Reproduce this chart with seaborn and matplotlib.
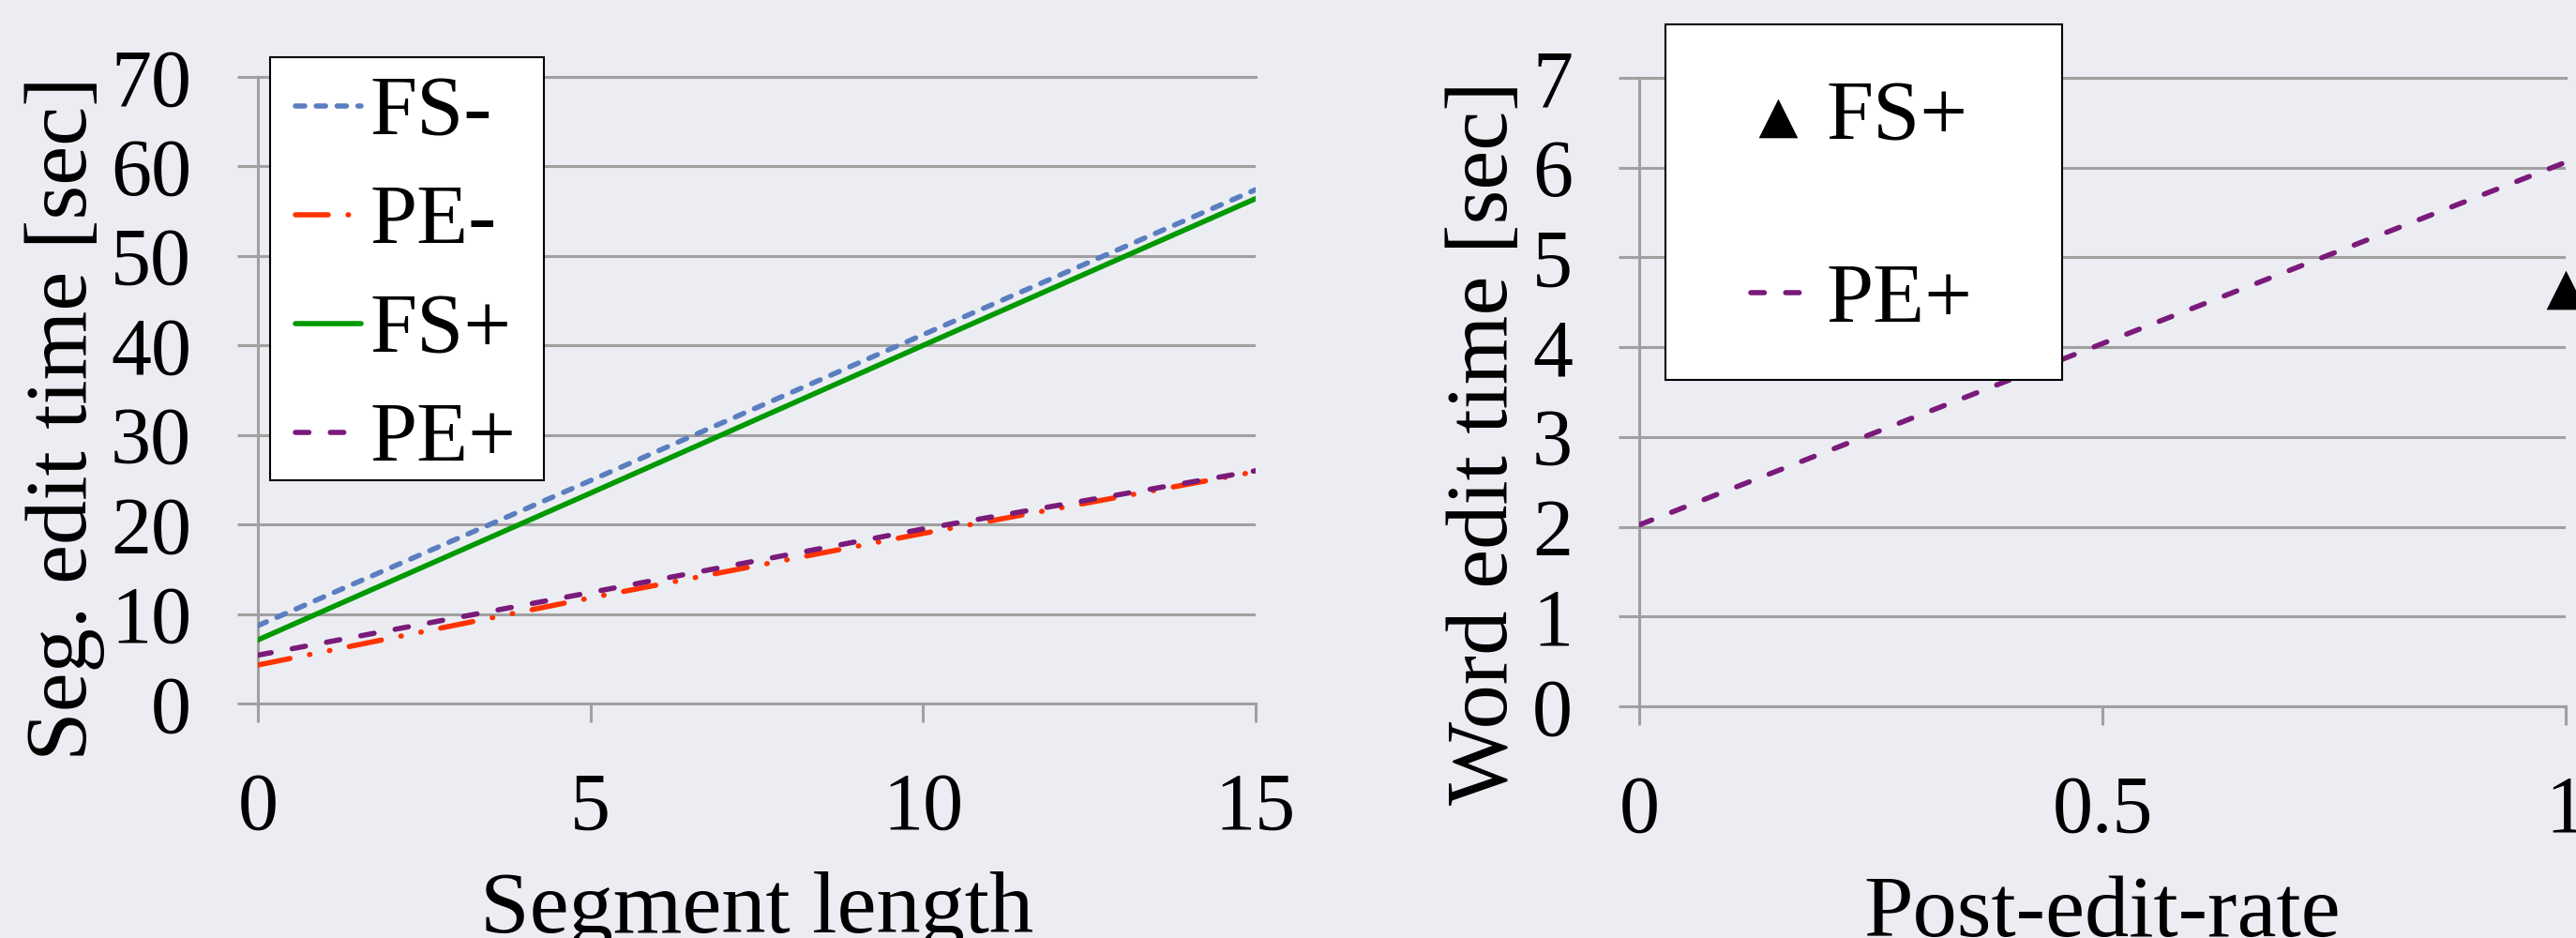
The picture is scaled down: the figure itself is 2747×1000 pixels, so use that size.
import matplotlib
matplotlib.use("Agg")
import matplotlib.pyplot as plt
from matplotlib.patches import Rectangle
import seaborn as sns

# ---------------- data ----------------
seg_len = [0, 5, 10, 15]
fs_minus = [8.7, 24.9, 41.2, 57.4]
pe_minus = [4.3, 11.8, 19.0, 25.9]
fs_plus = [7.1, 23.5, 40.0, 56.4]
pe_plus = [5.4, 12.4, 19.5, 26.0]

post_edit_rate = [0, 1]
pe_plus_word = [2.02, 6.06]
fs_plus_rate = [1]
fs_plus_word = [4.64]

left_xticks = [0, 5, 10, 15]
left_xticklabels = ["0", "5", "10", "15"]
left_yticks = [0, 10, 20, 30, 40, 50, 60, 70]
right_xticks = [0, 0.5, 1]
right_xticklabels = ["0", "0.5", "1"]
right_yticks = [0, 1, 2, 3, 4, 5, 6, 7]

# ---------------- style ----------------
BG = "#ECEDF2"
GRID = "#A0A0A0"
sns.set_style("white", rc={"axes.facecolor": BG, "figure.facecolor": BG,
                           "text.color": "black", "axes.labelcolor": "black",
                           "xtick.color": "black", "ytick.color": "black"})
plt.rcParams["font.family"] = ["Liberation Serif", "DejaVu Serif"]

LW = 4.0
GLW = 2.2
TICK_FS = 62
LABEL_FS = 68
LEG_FS = 65

fig = plt.figure(figsize=(27.47, 10), dpi=100)
ax1 = fig.add_axes([0.1001, 0.25, 0.3873, 0.668])
ax2 = fig.add_axes([0.6363, 0.247, 0.3597, 0.670])

left_series = [
    ("FS-", fs_minus, "#5A7EC0", (0, (1.8, 2.2))),
    ("PE-", pe_minus, "#FF3300", (0, (6.3, 3.8, 0.1, 3.8, 0.1, 3.8))),
    ("FS+", fs_plus, "#009900", "-"),
    ("PE+", pe_plus, "#7A1A7A", (0, (2.6, 4.1))),
]
for name, vals, col, ls in left_series:
    sns.lineplot(x=seg_len, y=vals, ax=ax1, color=col, linestyle=ls,
                 linewidth=LW, dash_capstyle="round", label=name,
                 errorbar=None, legend=False, zorder=3)

sns.lineplot(x=post_edit_rate, y=pe_plus_word, ax=ax2, color="#7A1A7A",
             linestyle=(0, (2.6, 4.1)), linewidth=LW, dash_capstyle="round",
             label="PE+", errorbar=None, legend=False, zorder=3)
sns.scatterplot(x=fs_plus_rate, y=fs_plus_word, ax=ax2, marker="^", s=30 ** 2,
                color="black", linewidth=0, clip_on=False, label="FS+",
                legend=False, zorder=4)

def style_axes(ax, xlim, ylim, xticks, xticklabels, yticks):
    ax.set_xlim(*xlim)
    ax.set_ylim(*ylim)
    ax.set_xticks(xticks)
    ax.set_xticklabels(xticklabels)
    ax.set_yticks(yticks)
    ax.set_yticklabels([str(v) for v in yticks])
    ax.set_axisbelow(True)
    ax.yaxis.grid(True, color=GRID, linewidth=GLW)
    ax.xaxis.grid(False)
    for side in ["left", "top", "bottom"]:
        ax.spines[side].set_visible(True)
        ax.spines[side].set_color(GRID)
        ax.spines[side].set_linewidth(GLW)
    ax.spines["right"].set_visible(False)
    ax.tick_params(axis="y", direction="out", length=16, width=GLW, color=GRID,
                   pad=35, labelsize=TICK_FS, labelcolor="black", left=True)
    ax.tick_params(axis="x", direction="out", length=14.4, width=GLW, color=GRID,
                   pad=38, labelsize=TICK_FS, labelcolor="black", bottom=True)
    leg = ax.get_legend()
    if leg is not None:
        leg.remove()

style_axes(ax1, (0, 15), (0, 70), left_xticks, left_xticklabels, left_yticks)
style_axes(ax2, (0, 1), (0, 7), right_xticks, right_xticklabels, right_yticks)

ax1.set_xlabel("Segment length", fontsize=LABEL_FS, va="baseline", color="black")
ax1.xaxis.set_label_coords(0.5, -0.366)
ax1.set_ylabel("Seg. edit time [sec]", fontsize=LABEL_FS, va="baseline", color="black")
ax1.yaxis.set_label_coords(-0.172, 0.455)

ax2.set_xlabel("Post-edit-rate", fontsize=LABEL_FS, va="baseline", color="black")
ax2.xaxis.set_label_coords(0.5, -0.366)
ax2.set_ylabel("Word edit time [sec]", fontsize=LABEL_FS, va="baseline", color="black")
ax2.yaxis.set_label_coords(-0.1427, 0.419)

# ---------------- legends ----------------
h1, l1 = ax1.get_legend_handles_labels()
order1 = ["FS-", "PE-", "FS+", "PE+"]
h1 = [h1[l1.index(n)] for n in order1]

h2, l2 = ax2.get_legend_handles_labels()
order2 = ["FS+", "PE+"]
h2 = [h2[l2.index(n)] for n in order2]

rect1 = Rectangle((0.10484, 0.488), 0.1063, 0.451, transform=fig.transFigure,
                  facecolor="white", edgecolor="black", linewidth=1.5, zorder=4)
rect2 = Rectangle((0.64652, 0.595), 0.15399, 0.379, transform=fig.transFigure,
                  facecolor="white", edgecolor="black", linewidth=1.5, zorder=4)
fig.add_artist(rect1)
fig.add_artist(rect2)

leg1 = fig.legend(h1, order1, loc="center", bbox_to_anchor=(0.1574, 0.704),
                  frameon=False, fontsize=LEG_FS, handlelength=0.78,
                  handletextpad=0.1, labelspacing=0.37, borderpad=0,
                  borderaxespad=0, labelcolor="black")
leg1.set_zorder(6)
leg2 = fig.legend(h2, order2, loc="center", bbox_to_anchor=(0.7228, 0.7755),
                  frameon=False, fontsize=LEG_FS, handlelength=0.64,
                  handletextpad=0.25, labelspacing=1.23, borderpad=0,
                  borderaxespad=0, scatterpoints=1, labelcolor="black")
leg2.set_zorder(6)

fig.savefig("out.png", dpi=100, facecolor=BG)
